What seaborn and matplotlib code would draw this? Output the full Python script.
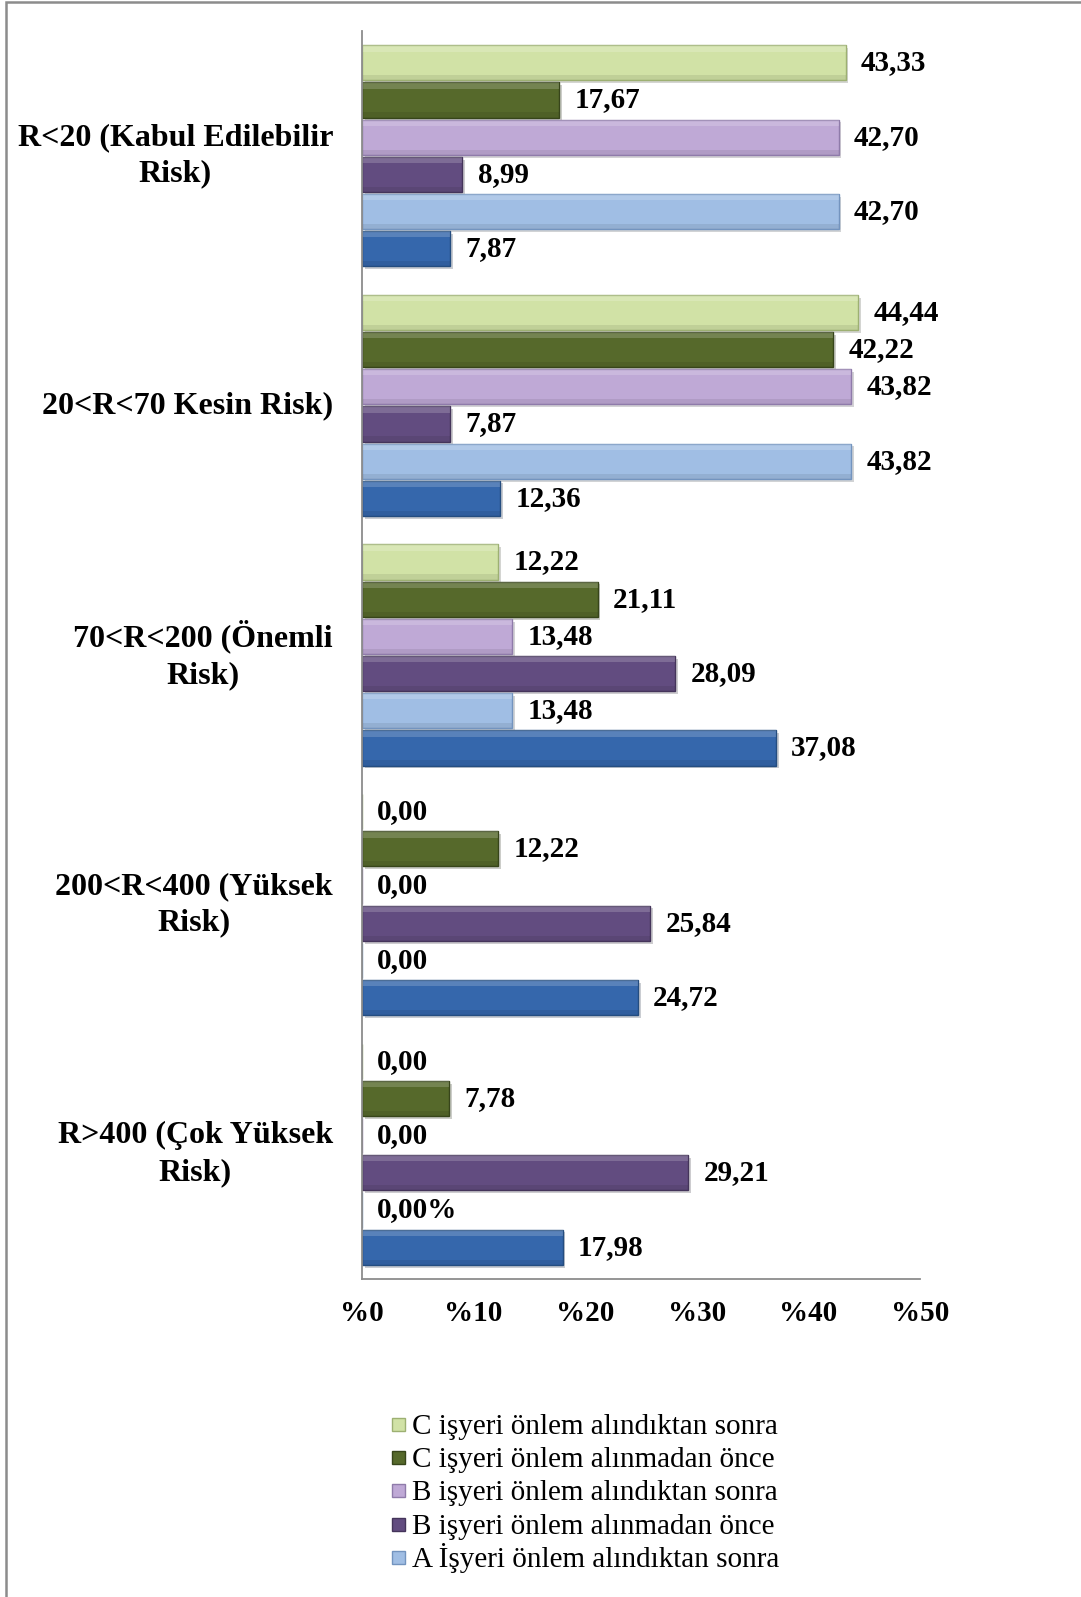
import matplotlib
matplotlib.use("Agg")
import matplotlib.pyplot as plt
import matplotlib.transforms as mtransforms
import seaborn as sns
import pandas as pd
from matplotlib.patches import Rectangle
import matplotlib.patheffects as pe

# Risk classes (y axis, top to bottom)
categories = [
    "R<20 (Kabul Edilebilir\nRisk)",
    "20<R<70 Kesin Risk)",
    "70<R<200 (Önemli\nRisk)",
    "200<R<400 (Yüksek\nRisk)",
    "R>400 (Çok Yüksek\nRisk)",
]

# Workplace / period series
series = [
    "C işyeri önlem alındıktan sonra",
    "C işyeri önlem alınmadan önce",
    "B işyeri önlem alındıktan sonra",
    "B işyeri önlem alınmadan önce",
    "A İşyeri önlem alındıktan sonra",
    "A İşyeri önlem alınmadan önce",
]

# Percentage of hazards in each risk class
c_after = [43.33, 44.44, 12.22, 0.00, 0.00]
c_before = [17.67, 42.22, 21.11, 12.22, 7.78]
b_after = [42.70, 43.82, 13.48, 0.00, 0.00]
b_before = [8.99, 7.87, 28.09, 25.84, 29.21]
a_after = [42.70, 43.82, 13.48, 0.00, 0.00]
a_before = [7.87, 12.36, 37.08, 24.72, 17.98]

xticks = [0, 10, 20, 30, 40, 50]
xtick_labels = ["%0", "%10", "%20", "%30", "%40", "%50"]

colors = ["#D1E2A6", "#56692B", "#BFA9D6", "#624C80", "#A0BEE4", "#3567AC"]
edges = ["#9DB072", "#37451A", "#8F7BAA", "#44345A", "#7394BF", "#244D80"]

values = [c_after, c_before, b_after, b_before, a_after, a_before]
df = pd.DataFrame(
    [(cat, s, v) for s, vals in zip(series, values) for cat, v in zip(categories, vals)],
    columns=["kategori", "seri", "deger"],
)

sns.set_theme(style="white")
plt.rcParams["font.family"] = ["Liberation Serif", "DejaVu Serif"]
plt.rcParams["text.color"] = "black"
plt.rcParams["xtick.color"] = "black"
plt.rcParams["ytick.color"] = "black"

fig = plt.figure(figsize=(10.81, 15.97), dpi=100)
ax = fig.add_axes([362 / 1081, 1 - 1279 / 1597, (920 - 362) / 1081, (1279 - 31) / 1597])

sns.barplot(
    data=df, y="kategori", x="deger", hue="seri",
    order=categories, hue_order=series,
    palette=colors, saturation=1, orient="h", width=0.894, gap=0.05,
    legend=False, ax=ax, errorbar=None,
)

# Bevelled look: edge, soft shadow, light top band and darker bottom band
shadow = [pe.SimplePatchShadow(offset=(2, -2), alpha=0.22), pe.Normal()]
for cont, ec in zip(ax.containers, edges):
    for bar in cont:
        bar.set_edgecolor(ec)
        bar.set_linewidth(1.0)
        w = bar.get_width()
        if w <= 0:
            continue
        bar.set_path_effects(shadow)
        y0, h = bar.get_y(), bar.get_height()
        ax.add_patch(Rectangle((0, y0), w, h * 0.18, facecolor="white",
                               alpha=0.18, lw=0, zorder=bar.get_zorder() + 0.1))
        ax.add_patch(Rectangle((0, y0 + h * 0.85), w, h * 0.15, facecolor="black",
                               alpha=0.08, lw=0, zorder=bar.get_zorder() + 0.1))

# Value labels with comma decimal separator
for i, (cont, vals) in enumerate(zip(ax.containers, values)):
    labels = [f"{v:.2f}".replace(".", ",") for v in vals]
    if i == 4:
        labels[4] = labels[4] + "%"
    ax.bar_label(cont, labels=labels, padding=11, fontsize=21,
                 fontweight="bold", color="black")

ax.set_xlim(0, 50)
ax.set_xticks(xticks)
ax.set_xticklabels(xtick_labels, fontsize=21, fontweight="bold")
ax.tick_params(axis="x", length=0, pad=15)

# Category names: right-aligned blocks, lines centred within each block
ax.set_yticks(range(len(categories)))
ax.set_yticklabels([])
ax.tick_params(axis="y", length=0)
ylab_trans = mtransforms.blended_transform_factory(ax.transAxes, ax.transData)
off = mtransforms.ScaledTranslation(-29 / 100, 0, fig.dpi_scale_trans)
for i, name in enumerate(categories):
    ax.text(0, i, name, transform=ylab_trans + off, ha="right", va="center",
            multialignment="center", linespacing=1.35, fontsize=23,
            fontweight="bold", color="black")

ax.set_xlabel("")
ax.set_ylabel("")
for side in ["top", "right"]:
    ax.spines[side].set_visible(False)
for side in ["left", "bottom"]:
    ax.spines[side].set_color("#8C8C8C")
    ax.spines[side].set_linewidth(1.3)

# Legend (first five series), one row per series
row_y = 1424
row_step = 33.4
for k in range(5):
    yc = row_y + k * row_step
    fig.patches.append(Rectangle((392 / 1081, 1 - (yc + 6.5) / 1597), 13 / 1081, 13 / 1597,
                                 transform=fig.transFigure, facecolor=colors[k],
                                 edgecolor=edges[k], lw=1.0))
    fig.text(412 / 1081, 1 - (yc + 9.5) / 1597, series[k], fontsize=21,
             ha="left", va="baseline", color="black")

# Outer frame of the chart area
fig.patches.append(Rectangle((6 / 1081, -0.05), 1.2, 1.05 - 2.5 / 1597,
                             transform=fig.transFigure, facecolor="none",
                             edgecolor="#8C8C8C", lw=1.8))

fig.savefig("out.png", dpi=100)
